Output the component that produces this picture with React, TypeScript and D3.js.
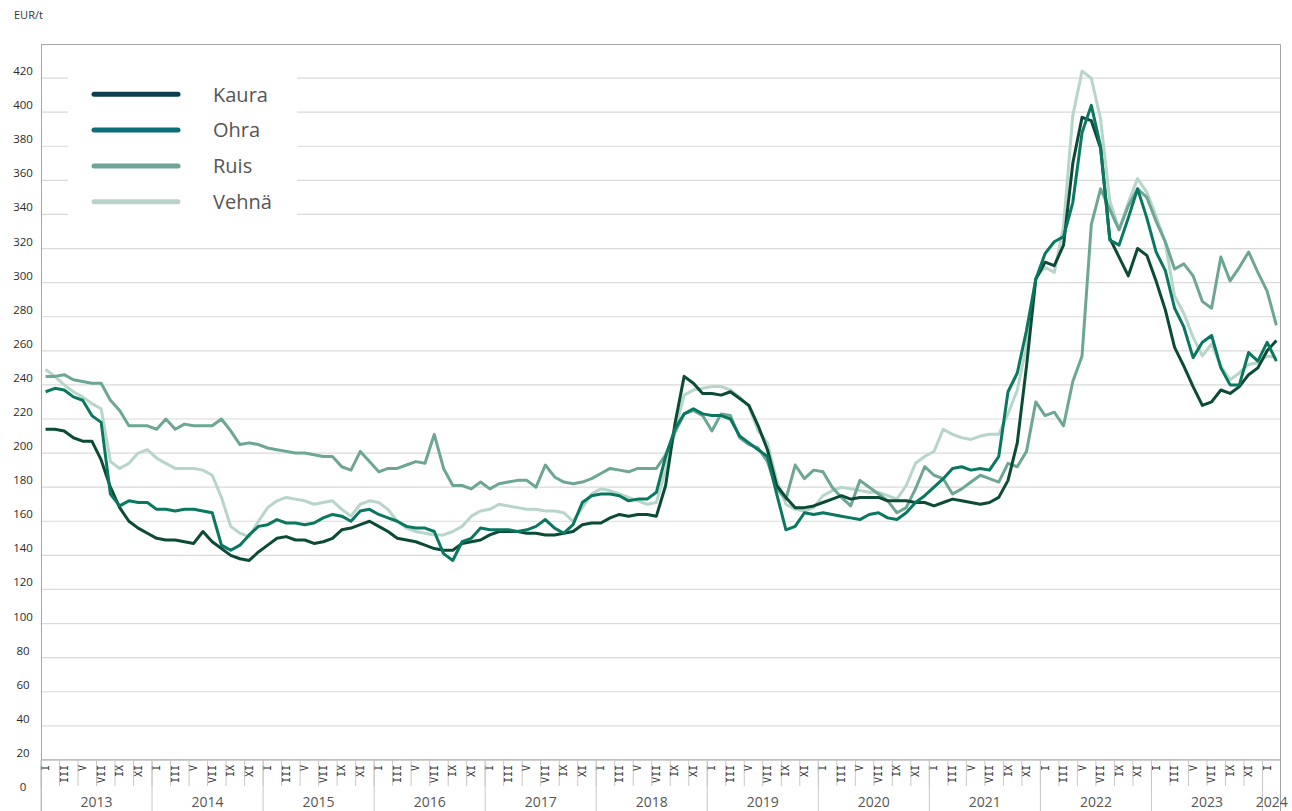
import React from "react";
import * as d3 from "d3";

// monthly prices EUR/t, Jan 2013 - Feb 2024
const years = [2013, 2014, 2015, 2016, 2017, 2018, 2019, 2020, 2021, 2022, 2023, 2024];
const monthLabels = ["I", "", "III", "", "V", "", "VII", "", "IX", "", "XI", ""];

const kaura = [
  214, 214, 213, 209, 207, 207, 196, 180, 168, 160, 156, 153,
  150, 149, 149, 148, 147, 154, 148, 144, 140, 138, 137, 142,
  146, 150, 151, 149, 149, 147, 148, 150, 155, 156, 158, 160,
  157, 154, 150, 149, 148, 146, 144, 143, 143, 147, 148, 149,
  152, 154, 154, 154, 153, 153, 152, 152, 153, 154, 158, 159,
  159, 162, 164, 163, 164, 164, 163, 181, 217, 245, 241, 235,
  235, 234, 236, 232, 228, 216, 202, 181, 174, 168, 168, 169,
  171, 173, 175, 173, 174, 174, 174, 172, 172, 172, 171, 171,
  169, 171, 173, 172, 171, 170, 171, 174, 184, 206, 251, 302,
  312, 310, 322, 370, 397, 395, 379, 326, 315, 304, 320, 316,
  301, 284, 262, 251, 239, 228, 230, 237, 235, 239, 246, 250,
  260, 266,
];

const ohra = [
  236, 238, 237, 233, 231, 222, 218, 176, 169, 172, 171, 171,
  167, 167, 166, 167, 167, 166, 165, 146, 143, 146, 152, 157,
  158, 161, 159, 159, 158, 159, 162, 164, 163, 160, 166, 167,
  164, 162, 160, 157, 156, 156, 154, 141, 137, 148, 150, 156,
  155, 155, 155, 154, 155, 157, 161, 156, 153, 158, 171, 175,
  176, 176, 175, 172, 173, 173, 177, 198, 214, 223, 226, 223,
  222, 222, 220, 210, 206, 202, 198, 176, 155, 157, 165, 164,
  165, 164, 163, 162, 161, 164, 165, 162, 161, 165, 171, 175,
  180, 185, 191, 192, 190, 191, 190, 198, 236, 247, 272, 302,
  317, 324, 327, 347, 388, 404, 380, 325, 322, 338, 355, 338,
  318, 307, 285, 274, 256, 265, 269, 250, 240, 240, 259, 254,
  265, 254,
];

const ruis = [
  245, 245, 246, 243, 242, 241, 241, 231, 225, 216, 216, 216,
  214, 220, 214, 217, 216, 216, 216, 220, 213, 205, 206, 205,
  203, 202, 201, 200, 200, 199, 198, 198, 192, 190, 201, 195,
  189, 191, 191, 193, 195, 194, 211, 191, 181, 181, 179, 183,
  179, 182, 183, 184, 184, 180, 193, 186, 183, 182, 183, 185,
  188, 191, 190, 189, 191, 191, 191, 199, 212, 223, 225, 222,
  213, 223, 222, 209, 205, 203, 195, 179, 173, 193, 185, 190,
  189, 180, 174, 169, 184, 180, 176, 172, 165, 168, 179, 192,
  187, 185, 176, 179, 183, 187, 185, 183, 194, 192, 201, 230,
  222, 224, 216, 242, 257, 334, 355, 343, 331, 345, 355, 350,
  336, 324, 308, 311, 304, 289, 285, 315, 301, 309, 318, 306,
  295, 275,
];

const vehna = [
  249, 245, 240, 236, 233, 229, 226, 195, 191, 194, 200, 202,
  197, 194, 191, 191, 191, 190, 187, 174, 157, 153, 151, 160,
  168, 172, 174, 173, 172, 170, 171, 172, 167, 163, 170, 172,
  171, 167, 160, 156, 154, 153, 152, 152, 154, 157, 163, 166,
  167, 170, 169, 168, 167, 167, 166, 166, 165, 160, 168, 176,
  179, 178, 176, 174, 172, 170, 171, 190, 213, 234, 237, 238,
  239, 239, 237, 233, 227, 213, 206, 184, 170, 167, 166, 168,
  175, 178, 180, 179, 178, 177, 177, 175, 173, 181, 194, 198,
  201, 214, 211, 209, 208, 210, 211, 211, 223, 237, 263, 303,
  309, 306, 333, 398, 424, 420, 396, 348, 331, 347, 361, 353,
  339, 323, 292, 282, 268, 257, 264, 251, 243, 247, 252, 253,
  257, 256,
];

const seriesNames = ["Kaura", "Ohra", "Ruis", "Vehnä"];
const lineColors = ["#0b4a36", "#0a7861", "#6ea696", "#b7d5c9"];
const legendColors = ["#0a3f4b", "#0b6e78", "#6fa596", "#bad3ca"];

const font = "'Open Sans', 'Noto Sans', sans-serif";

export default function App() {
  const data = [kaura, ohra, ruis, vehna];
  const n = kaura.length;
  const idx = d3.range(n);

  const x = d3.scaleBand<number>().domain(idx).range([41, 1281]);
  const y = d3.scaleLinear().domain([0, 440]).range([794, 44]);
  const cx = (i: number) => (x(i) as number) + x.bandwidth() / 2;
  const axisY = y(20);

  const line = d3
    .line<number>()
    .x((_, i) => cx(i))
    .y(d => y(d));

  const yTicks = d3.range(0, 440, 20);
  const drawOrder = [3, 2, 0, 1];

  return (
    <svg
      width={1292}
      height={811}
      style={{ position: "absolute", left: 0, top: 0, background: "#fff" }}
      fontFamily={font}
    >
      <text x={14} y={19} fontSize={11} fill="#333">EUR/t</text>

      {/* grid */}
      {yTicks.filter(t => t >= 20).map(t => (
        <line key={t} x1={41} x2={1280} y1={y(t)} y2={y(t)} stroke="#dadada" strokeWidth={1.2} />
      ))}
      {yTicks.map(t => (
        <text key={t} x={23} y={y(t) - 7} dy="0.35em" textAnchor="middle" fontSize={11.5} fill="#2b2b2b">
          {t}
        </text>
      ))}

      {/* frame */}
      <line x1={41} x2={1280.5} y1={44.5} y2={44.5} stroke="#a6a6a6" />
      <line x1={41.5} x2={41.5} y1={44.5} y2={811} stroke="#a6a6a6" />
      <line x1={1280.5} x2={1280.5} y1={44.5} y2={811} stroke="#a6a6a6" />
      <line x1={41} x2={1280.5} y1={axisY} y2={axisY} stroke="#a6a6a6" />

      {/* month ticks and labels */}
      {idx.filter(i => i % 2 === 0).map(i => (
        <line key={"t" + i} x1={x(i)} x2={x(i)} y1={axisY} y2={786} stroke="#c8c8c8" />
      ))}
      {idx.map(i => {
        const lbl = monthLabels[i % 12];
        if (!lbl) return null;
        return (
          <text
            key={"m" + i}
            transform={`translate(${cx(i)},${axisY + 5}) rotate(-90)`}
            textAnchor="end"
            dy="0.35em"
            fontSize={10}
            fontFamily="'DejaVu Sans Mono', monospace"
            fill="#333"
          >
            {lbl}
          </text>
        );
      })}

      {/* years */}
      {years.map((yr, k) => {
        const start = k * 12;
        const end = Math.min(start + 12, n);
        const x0 = x(start) as number;
        const x1 = end >= n ? 1281 : (x(end) as number);
        return (
          <g key={yr}>
            <line x1={x0} x2={x0} y1={axisY} y2={811} stroke="#c8c8c8" />
            <text x={(x0 + x1) / 2} y={807} textAnchor="middle" fontSize={14} fill="#555">
              {yr}
            </text>
          </g>
        );
      })}

      {/* lines */}
      {drawOrder.map(s => (
        <path
          key={seriesNames[s]}
          d={line(data[s]) || ""}
          fill="none"
          stroke={lineColors[s]}
          strokeWidth={3}
          strokeLinejoin="round"
        />
      ))}

      {/* legend */}
      <rect x={68} y={60} width={229} height={176} fill="#fff" />
      {seriesNames.map((name, k) => {
        const ly = 94.3 + k * 35.8;
        return (
          <g key={name}>
            <line x1={94} x2={178} y1={ly} y2={ly} stroke={legendColors[k]} strokeWidth={5} strokeLinecap="round" />
            <text x={213} y={ly} dy="0.36em" fontSize={20} fill="#555">
              {name}
            </text>
          </g>
        );
      })}
    </svg>
  );
}
